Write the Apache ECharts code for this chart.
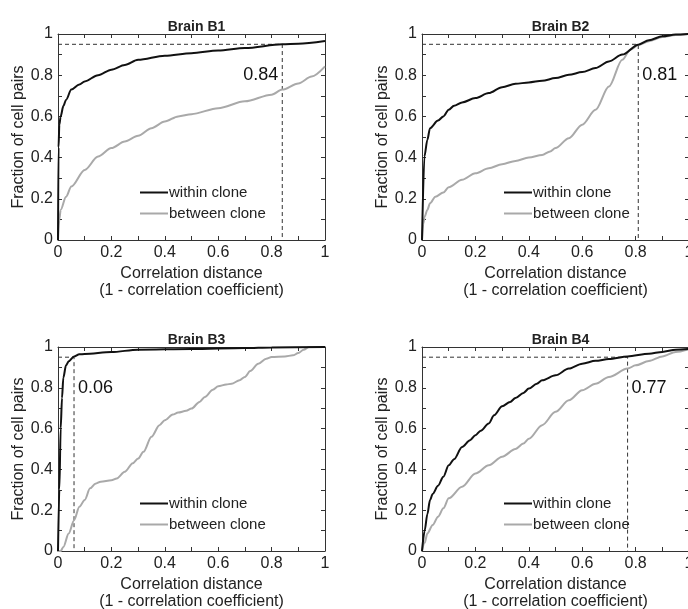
<!DOCTYPE html>
<html>
<head>
<meta charset="utf-8">
<script src="https://cdn.jsdelivr.net/npm/echarts@6/dist/echarts.min.js"></script>
<style>
  html, body { margin: 0; padding: 0; background: #fff; }
  #main { width: 688px; height: 609px; }
</style>
</head>
<body>
<div id="main"></div>
<script>
var titles = ['Brain B1', 'Brain B2', 'Brain B3', 'Brain B4'];
var thresholds = [0.84, 0.81, 0.06, 0.77];
var level = 0.95;
var labelSide = ['left', 'right', 'right', 'right'];
var seriesNames = ['within clone', 'between clone'];

// [correlation distance, fraction of cell pairs]
var b1Within = [[0,0],[0.002,0.45],[0.005,0.56],[0.01,0.6],[0.02,0.65],[0.03,0.68],[0.05,0.73],[0.08,0.755],[0.1,0.77],[0.15,0.8],[0.2,0.827],[0.25,0.85],[0.3,0.875],[0.4,0.895],[0.5,0.907],[0.6,0.92],[0.7,0.932],[0.84,0.95],[0.9,0.953],[1,0.966]];
var b1Between = [[0,0],[0.005,0.1],[0.01,0.146],[0.03,0.21],[0.05,0.26],[0.1,0.34],[0.15,0.405],[0.2,0.446],[0.25,0.478],[0.3,0.506],[0.35,0.543],[0.4,0.575],[0.45,0.6],[0.5,0.611],[0.6,0.64],[0.7,0.673],[0.8,0.705],[0.84,0.73],[0.9,0.76],[0.95,0.794],[1,0.843]];

var b2Within = [[0,0],[0.009,0.405],[0.02,0.486],[0.03,0.543],[0.06,0.58],[0.08,0.6],[0.1,0.632],[0.12,0.652],[0.15,0.668],[0.2,0.689],[0.25,0.713],[0.3,0.742],[0.35,0.758],[0.4,0.765],[0.45,0.773],[0.5,0.786],[0.55,0.802],[0.6,0.815],[0.65,0.835],[0.7,0.867],[0.75,0.9],[0.81,0.948],[0.85,0.97],[0.9,0.989],[0.95,0.997],[1,1]];
var b2Between = [[0,0],[0.005,0.08],[0.01,0.113],[0.02,0.146],[0.03,0.178],[0.05,0.21],[0.08,0.23],[0.1,0.256],[0.15,0.292],[0.2,0.324],[0.25,0.348],[0.3,0.368],[0.35,0.384],[0.4,0.4],[0.45,0.413],[0.48,0.43],[0.5,0.446],[0.55,0.494],[0.6,0.56],[0.65,0.632],[0.7,0.745],[0.75,0.875],[0.78,0.924],[0.81,0.946],[0.85,0.965],[0.9,0.985],[0.95,0.995],[1,1]];

var b3Within = [[0,0],[0.005,0.3],[0.01,0.6],[0.015,0.75],[0.02,0.85],[0.03,0.91],[0.04,0.93],[0.06,0.953],[0.08,0.964],[0.1,0.966],[0.2,0.975],[0.3,0.987],[0.5,0.99],[0.7,0.995],[0.8,0.998],[1,1]];
var b3Between = [[0,0],[0.01,0],[0.02,0.02],[0.04,0.086],[0.06,0.15],[0.08,0.217],[0.1,0.25],[0.12,0.307],[0.14,0.33],[0.16,0.34],[0.2,0.347],[0.22,0.356],[0.25,0.388],[0.28,0.43],[0.3,0.453],[0.32,0.486],[0.35,0.56],[0.38,0.617],[0.4,0.641],[0.43,0.669],[0.45,0.679],[0.48,0.687],[0.5,0.698],[0.53,0.731],[0.55,0.755],[0.58,0.791],[0.6,0.808],[0.63,0.816],[0.65,0.82],[0.68,0.837],[0.7,0.853],[0.72,0.882],[0.75,0.918],[0.78,0.943],[0.8,0.951],[0.85,0.954],[0.88,0.959],[0.9,0.97],[0.92,0.987],[0.94,1],[1,1]];

var b4Within = [[0,0],[0.01,0.1],[0.02,0.18],[0.03,0.25],[0.04,0.28],[0.06,0.32],[0.08,0.364],[0.1,0.42],[0.12,0.45],[0.15,0.51],[0.18,0.543],[0.2,0.568],[0.22,0.59],[0.25,0.625],[0.27,0.665],[0.3,0.71],[0.33,0.73],[0.35,0.75],[0.38,0.775],[0.4,0.796],[0.43,0.82],[0.45,0.837],[0.5,0.861],[0.55,0.894],[0.6,0.918],[0.65,0.932],[0.7,0.941],[0.77,0.954],[0.85,0.967],[0.9,0.976],[0.95,0.987],[1,0.99]];
var b4Between = [[0,0],[0.01,0.04],[0.02,0.086],[0.04,0.127],[0.06,0.168],[0.08,0.209],[0.1,0.258],[0.15,0.315],[0.2,0.38],[0.25,0.42],[0.3,0.462],[0.35,0.5],[0.38,0.527],[0.4,0.55],[0.45,0.617],[0.5,0.682],[0.55,0.739],[0.6,0.788],[0.65,0.82],[0.7,0.853],[0.77,0.894],[0.8,0.91],[0.85,0.931],[0.9,0.954],[0.95,0.976],[1,0.99]];

var withinData = [b1Within, b2Within, b3Within, b4Within];
var betweenData = [b1Between, b2Between, b3Between, b4Between];

var FONT = 'Liberation Sans, Arial, Helvetica, sans-serif';
var TXT = '#222';
var grids = [
  {left: 58, top: 34, width: 267, height: 206},
  {left: 422, top: 34, width: 267, height: 206},
  {left: 58, top: 347, width: 267, height: 204},
  {left: 422, top: 347, width: 267, height: 204}
];

var option = {
  animation: false,
  backgroundColor: '#fff',
  textStyle: {fontFamily: FONT},
  title: [],
  legend: [],
  grid: [],
  xAxis: [],
  yAxis: [],
  series: []
};

function tickAxis(base) {
  return Object.assign({
    min: 0, max: 1, interval: 0.2,
    axisLine: {show: true, onZero: false, lineStyle: {color: '#333', width: 1}},
    axisTick: {show: true, inside: true, length: 4, lineStyle: {color: '#333'}},
    minorTick: {show: true, splitNumber: 2, length: 4, lineStyle: {color: '#333'}},
    splitLine: {show: false},
    minorSplitLine: {show: false}
  }, base);
}

grids.forEach(function (g, i) {
  option.grid.push(Object.assign({outerBoundsMode: 'none', containLabel: false}, g));
  var cx = g.left + g.width / 2;
  option.title.push({
    text: titles[i], left: cx, top: g.top - 19, textAlign: 'center',
    textStyle: {fontFamily: FONT, fontSize: 14, fontWeight: 'bold', color: TXT}
  });
  option.legend.push({
    data: seriesNames, orient: 'vertical', left: g.left + 77, top: g.top + g.height - 61,
    icon: 'rect', itemWidth: 28, itemHeight: 2, itemGap: 4,
    textStyle: {fontFamily: FONT, fontSize: 15, color: TXT, padding: [0, 0, 0, -4], lineHeight: 17},
    selectedMode: false
  });
  // bottom / left axes with labels
  option.xAxis.push(tickAxis({
    gridIndex: i, type: 'value', position: 'bottom',
    name: 'Correlation distance\n(1 - correlation coefficient)',
    nameLocation: 'middle', nameGap: 25,
    nameTextStyle: {fontFamily: FONT, fontSize: 16, color: TXT, lineHeight: 17},
    axisLabel: {margin: 5, fontFamily: FONT, fontSize: 16, color: TXT}
  }));
  option.yAxis.push(tickAxis({
    gridIndex: i, type: 'value', position: 'left',
    name: 'Fraction of cell pairs', nameLocation: 'middle', nameGap: 30,
    nameTextStyle: {fontFamily: FONT, fontSize: 16, color: TXT},
    axisLabel: {margin: 5, fontFamily: FONT, fontSize: 16, color: TXT}
  }));
});
// top / right frame axes
grids.forEach(function (g, i) {
  option.xAxis.push(tickAxis({gridIndex: i, type: 'value', position: 'top', axisLabel: {show: false}}));
  option.yAxis.push(tickAxis({gridIndex: i, type: 'value', position: 'right', axisLabel: {show: false}}));
});

grids.forEach(function (g, i) {
  var thr = thresholds[i];
  option.series.push({
    name: 'between clone', type: 'line', xAxisIndex: i, yAxisIndex: i,
    data: betweenData[i], showSymbol: false, smooth: 0.3, smoothMonotone: 'x',
    lineStyle: {color: '#a9a9a9', width: 2}, itemStyle: {color: '#a9a9a9'}, z: 3
  });
  option.series.push({
    name: 'within clone', type: 'line', xAxisIndex: i, yAxisIndex: i,
    data: withinData[i], showSymbol: false, smooth: 0.3, smoothMonotone: 'x',
    lineStyle: {color: '#111', width: 2}, itemStyle: {color: '#111'}, z: 4
  });
  option.series.push({
    type: 'line', xAxisIndex: i, yAxisIndex: i, silent: true,
    data: [[0, level], [thr, level], [thr, 0]], showSymbol: false,
    lineStyle: {color: '#333', width: 1, type: [4, 3]}, z: 2
  });
  option.series.push({
    type: 'scatter', xAxisIndex: i, yAxisIndex: i, silent: true,
    data: [[thr, 0.8]], symbolSize: 0, itemStyle: {opacity: 1, color: '#111'},
    label: {show: true, position: labelSide[i], distance: 4, opacity: 1,
      formatter: thr.toFixed(2), fontFamily: FONT, fontSize: 18, color: '#111'}
  });
});

var chart = echarts.init(document.getElementById('main'));
chart.setOption(option);
</script>
</body>
</html>
